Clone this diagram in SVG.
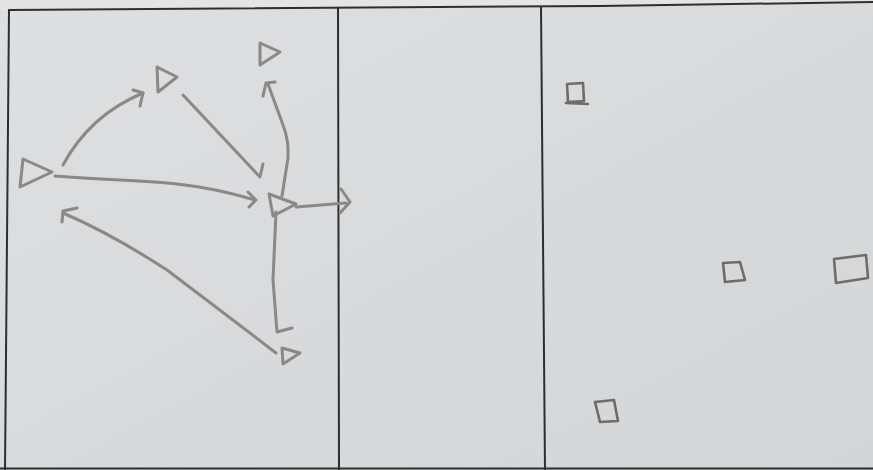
<svg xmlns="http://www.w3.org/2000/svg" width="873" height="470" viewBox="0 0 873 470">
<defs>
<linearGradient id="paper" x1="0" y1="0" x2="1" y2="1">
<stop offset="0" stop-color="#dddfe0"/>
<stop offset="1" stop-color="#d3d5d6"/>
</linearGradient>
<style>
.frame{fill:none;stroke:#2e2e2e;stroke-width:2;stroke-linecap:round}
.node{fill:none;stroke:#8b8885;stroke-width:3;stroke-linejoin:round;stroke-linecap:round}
.box{fill:none;stroke:#6f6c68;stroke-width:2.6;stroke-linejoin:round;stroke-linecap:round}
.edge{fill:none;stroke:#8b8885;stroke-width:3;stroke-linejoin:round;stroke-linecap:round}
</style>
</defs>
<rect x="0" y="0" width="873" height="470" fill="url(#paper)"/>
<path d="M0 0 H873 V2 L600 6 L9 10 H0 Z" fill="#e4e4e4"/>
<g id="frame">
<path class="frame" d="M9 10 L600 6 L873 2"/>
<path class="frame" d="M9 10 L5 470"/>
<path class="frame" d="M338 8 L339 470"/>
<path class="frame" d="M541 7 L545 470"/>
<path class="frame" d="M0 468.5 H873"/>
</g>
<g id="n-left"><polygon class="node" points="23,159 20,187 52,172"/></g>
<g id="n-upper"><polygon class="node" points="157,67 158,92 177,77"/></g>
<g id="n-top"><polygon class="node" points="260,43 260,65 280,52"/></g>
<g id="n-center"><polygon class="node" points="269,194 273,216 296,204"/></g>
<g id="n-bottom"><polygon class="node" points="282,348 283,364 300,353"/></g>
<g id="b1"><path class="box" d="M567 84 L583 83 L584 101 L568 102 Z M566 103 L588 104"/></g>
<g id="b2"><path class="box" d="M723 263 L740 262 L745 280 L725 282 Z"/></g>
<g id="b3"><path class="box" d="M834 259 L866 255 L868 278 L836 283 Z"/></g>
<g id="b4"><path class="box" d="M595 402 L614 400 L618 421 L600 422 Z"/></g>
<g id="connectors">
<path class="edge" d="M63 165 Q90 115 143 93"/>
<path class="edge" d="M133 90 L143 93 L140 106"/>
<path class="edge" d="M183 95 L260 177 L263 164"/>
<path class="edge" d="M55 176 Q80 178 120 180 T177 184 Q215 188 255 200"/>
<path class="edge" d="M248 192 L256 200 L249 207"/>
<path class="edge" d="M282 196 L288 158 Q289 140 283 125 L268 84"/>
<path class="edge" d="M263 96 L266 83 L275 82"/>
<path class="edge" d="M296 207 L346 203"/>
<path class="edge" d="M341 189 L350 202 L340 213"/>
<path class="edge" d="M276 212 L273 280 L277 332 L292 328"/>
<path class="edge" d="M276 353 Q220 310 167 270 Q110 233 63 213"/>
<path class="edge" d="M62 222 L63 211 L77 208"/>
</g>
</svg>
